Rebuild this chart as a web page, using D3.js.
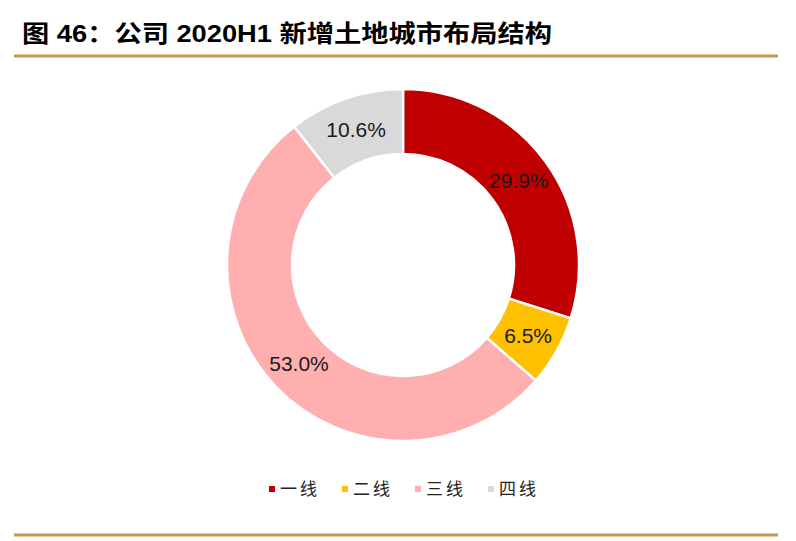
<!DOCTYPE html>
<html>
<head>
<meta charset="utf-8">
<script src="https://cdn.jsdelivr.net/npm/d3@7"></script>
<style>
  body { margin: 0; background: #fff; }
  svg { display: block; }
</style>
</head>
<body>
<div id="chart"></div>
<script>
// data
var categories = ['一线', '二线', '三线', '四线'];
var shares = [29.9, 6.5, 53.0, 10.6];
var colors = ['#C00000', '#FFC000', '#FFAFAF', '#D9D9D9'];

var W = 796, H = 541;
var cx = 403, cy = 265, outerR = 176, innerR = 111;

var svg = d3.select('#chart')
  .append('svg')
  .attr('width', W)
  .attr('height', H);

// title + rules
svg.append('text')
  .attr('x', 22)
  .attr('y', 42)
  .attr('font-family', '"Liberation Sans", "Noto Sans CJK SC", sans-serif')
  .attr('font-weight', 'bold')
  .attr('font-size', '24px')
  .attr('textLength', 530)
  .attr('lengthAdjust', 'spacingAndGlyphs')
  .attr('fill', '#000')
  .text('图 46：公司 2020H1 新增土地城市布局结构');

[56, 535].forEach(function(y) {
  svg.append('line')
    .attr('x1', 14).attr('x2', 778)
    .attr('y1', y).attr('y2', y)
    .attr('stroke', '#C8964B')
    .attr('stroke-width', 3);
});

var rows = categories.map(function(c, i) {
  return { name: c, value: shares[i], color: colors[i] };
});

var pie = d3.pie()
  .sort(null)
  .value(function(d) { return d.value; });

var arc = d3.arc()
  .innerRadius(innerR)
  .outerRadius(outerR);

var g = svg.append('g')
  .attr('transform', 'translate(' + cx + ',' + cy + ')');

var slices = pie(rows);

g.selectAll('path')
  .data(slices)
  .enter()
  .append('path')
  .attr('d', arc)
  .attr('fill', function(d) { return d.data.color; })
  .attr('stroke', '#fff')
  .attr('stroke-width', 2.5);

g.selectAll('text.label')
  .data(slices)
  .enter()
  .append('text')
  .attr('class', 'label')
  .attr('transform', function(d) { return 'translate(' + arc.centroid(d) + ')'; })
  .attr('text-anchor', 'middle')
  .attr('dy', '0.36em')
  .attr('font-family', '"Liberation Sans", Arial, sans-serif')
  .attr('font-size', '21px')
  .attr('fill', '#1a1a1a')
  .text(function(d) { return d.data.value.toFixed(1) + '%'; });

// legend
var legend = d3.scaleBand()
  .domain(categories)
  .range([266, 558]);

var item = svg.selectAll('g.legend')
  .data(rows)
  .enter()
  .append('g')
  .attr('class', 'legend')
  .attr('transform', function(d) { return 'translate(' + legend(d.name) + ',489)'; });

item.append('rect')
  .attr('x', 3).attr('y', -3)
  .attr('width', 6).attr('height', 6)
  .attr('fill', function(d) { return d.color; });

item.append('text')
  .attr('x', 14)
  .attr('dy', '0.36em')
  .attr('font-family', '"Noto Sans CJK SC", sans-serif')
  .attr('font-size', '17px')
  .attr('letter-spacing', '3px')
  .attr('fill', '#222')
  .text(function(d) { return d.name; });
</script>
</body>
</html>
